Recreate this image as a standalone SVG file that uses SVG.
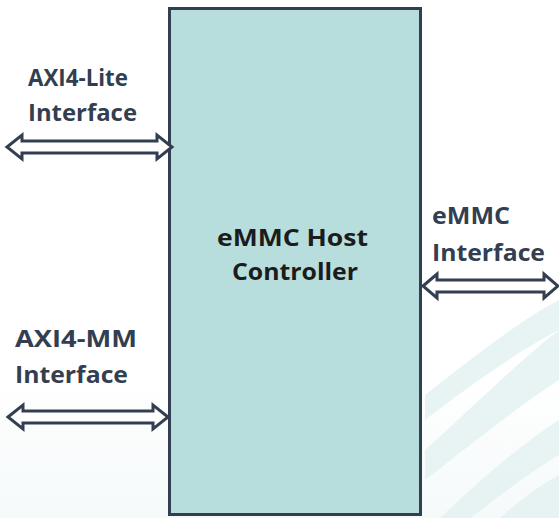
<svg xmlns="http://www.w3.org/2000/svg" width="559" height="518" viewBox="0 0 559 518">
<defs>
<style>
.lbl{font-family:"Open Sans","Liberation Sans",sans-serif;font-weight:bold;font-size:23px;fill:#333f50}
.ctr{font-family:"Open Sans","Liberation Sans",sans-serif;font-weight:bold;font-size:24px;fill:#1c1c1c}
.arr{fill:#ffffff;stroke:#333f50;stroke-width:3;stroke-linejoin:miter}
.swoosh{fill:#e2f1f0;opacity:0.8}
</style>
<linearGradient id="bl" x1="0" y1="0" x2="0" y2="1">
<stop offset="0" stop-color="#ffffff"/>
<stop offset="1" stop-color="#eef6f6"/>
</linearGradient>
</defs>
<rect width="559" height="518" fill="#ffffff"/>
<rect x="0" y="380" width="559" height="138" fill="url(#bl)" opacity="0.6"/>
<g id="background">
<path class="swoosh" d="M425,395 C470,360 520,320 559,300 L559,330 C520,350 470,385 425,420 Z"/>
<path class="swoosh" d="M425,450 C470,410 520,360 559,330 L559,380 C520,405 470,445 425,480 Z"/>
<path class="swoosh" d="M440,518 C480,480 520,445 559,420 L559,455 C525,475 495,500 470,518 Z"/>
<path class="swoosh" d="M500,518 C520,500 540,485 559,475 L559,518 Z"/>
</g>
<g id="controller">
<rect x="169.5" y="8.5" width="251" height="506" fill="#b7dedd" stroke="#333f50" stroke-width="3"/>
<text class="ctr" x="217" y="246" textLength="151" lengthAdjust="spacingAndGlyphs">eMMC Host</text>
<text class="ctr" x="232" y="280" textLength="126" lengthAdjust="spacingAndGlyphs">Controller</text>
</g>
<g id="axi4lite">
<text class="lbl" x="28" y="86" textLength="100" lengthAdjust="spacingAndGlyphs">AXI4-Lite</text>
<text class="lbl" x="28" y="121" textLength="109" lengthAdjust="spacingAndGlyphs">Interface</text>
</g>
<g id="axi4mm">
<text class="lbl" x="15" y="347" textLength="122" lengthAdjust="spacingAndGlyphs">AXI4-MM</text>
<text class="lbl" x="15" y="383" textLength="113" lengthAdjust="spacingAndGlyphs">Interface</text>
</g>
<g id="emmc">
<text class="lbl" x="432" y="224" textLength="78" lengthAdjust="spacingAndGlyphs">eMMC</text>
<text class="lbl" x="432" y="261" textLength="113" lengthAdjust="spacingAndGlyphs">Interface</text>
</g>
<g id="connectors">
<polygon class="arr" points="7,147 22,135 22,141 157,141 157,135 172,147 157,159 157,153 22,153 22,159"/>
<polygon class="arr" points="8,417 23,405 23,411 153,411 153,405 168,417 153,429 153,423 23,423 23,429"/>
<polygon class="arr" points="423,286 437,274 437,280 544,280 544,274 558,286 544,298 544,292 437,292 437,298"/>
</g>
</svg>
